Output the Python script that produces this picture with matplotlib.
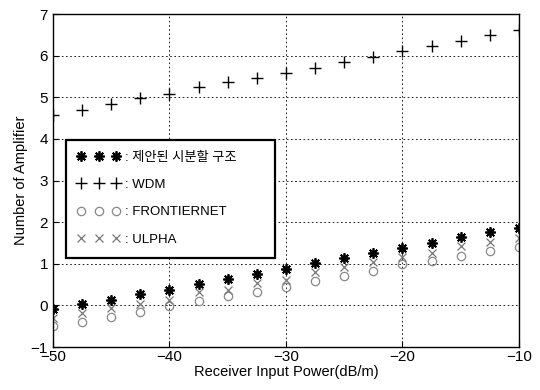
import matplotlib
matplotlib.use('Agg')
import matplotlib.pyplot as plt
import numpy as np

# receiver input power (dB/m)
power = [-50, -47.5, -45, -42.5, -40, -37.5, -35, -32.5, -30,
         -27.5, -25, -22.5, -20, -17.5, -15, -12.5, -10]

proposed = [-0.08, 0.03, 0.14, 0.27, 0.38, 0.52, 0.63, 0.75, 0.88,
            1.01, 1.13, 1.27, 1.39, 1.51, 1.65, 1.76, 1.87]
wdm = [4.58, 4.70, 4.84, 4.99, 5.08, 5.25, 5.37, 5.47, 5.59,
       5.71, 5.85, 5.97, 6.11, 6.23, 6.35, 6.50, 6.62]
frontiernet = [-0.50, -0.40, -0.28, -0.16, -0.02, 0.10, 0.22, 0.32, 0.45,
               0.58, 0.70, 0.82, 0.99, 1.06, 1.18, 1.30, 1.40]
ulpha = [-0.30, -0.18, -0.07, 0.03, 0.13, 0.32, 0.37, 0.55, 0.62,
         0.80, 0.92, 1.04, 1.16, 1.27, 1.42, 1.52, 1.62]

labels = [': 제안된 시분할 구조', ': WDM', ': FRONTIERNET', ': ULPHA']

plt.rcParams['font.family'] = ['Liberation Sans', 'Noto Sans CJK KR', 'DejaVu Sans']

fig = plt.figure(figsize=(5.4, 3.9), dpi=100)
ax = fig.add_axes([0.098, 0.110, 0.863, 0.854])

ax.plot(power, proposed, linestyle='none', marker=(8, 2, 0), markersize=7.5,
        markeredgewidth=1.3, color='black', label=labels[0])
ax.plot(power, wdm, linestyle='none', marker='+', markersize=9,
        markeredgewidth=1.0, color='black', label=labels[1])
ax.plot(power, frontiernet, linestyle='none', marker='o', markersize=6,
        markerfacecolor='none', markeredgewidth=0.9, color='#888888',
        label=labels[2])
ax.plot(power, ulpha, linestyle='none', marker='x', markersize=5.5,
        markeredgewidth=0.9, color='#777777', label=labels[3])

ax.set_xlim(-50, -10)
ax.set_ylim(-1, 7)
ax.set_xticks([-50, -40, -30, -20, -10])
ax.set_yticks(range(-1, 8))
ax.tick_params(direction='in', labelsize=11, length=4, width=0.8)
ax.tick_params(axis='x', pad=2)
for s in ax.spines.values():
    s.set_linewidth(1.0)

ax.grid(True, color='black', linestyle=(0, (2, 3)), linewidth=0.6)
ax.set_axisbelow(True)

ax.set_xlabel('Receiver Input Power(dB/m)', fontsize=10.5, labelpad=1)
ax.set_ylabel('Number of Amplifier', fontsize=10.5, labelpad=2)

leg = ax.legend(loc='upper left', bbox_to_anchor=(0.013, 0.294, 0.478, 0.349),
                mode='expand', numpoints=3, handlelength=3.2, handletextpad=0.4,
                labelspacing=1.15, borderpad=0.9, fontsize=9.5,
                fancybox=False, framealpha=1, edgecolor='black')
leg.get_frame().set_linewidth(1.6)
leg.set_zorder(5)

fig.savefig('out.png', dpi=100)
